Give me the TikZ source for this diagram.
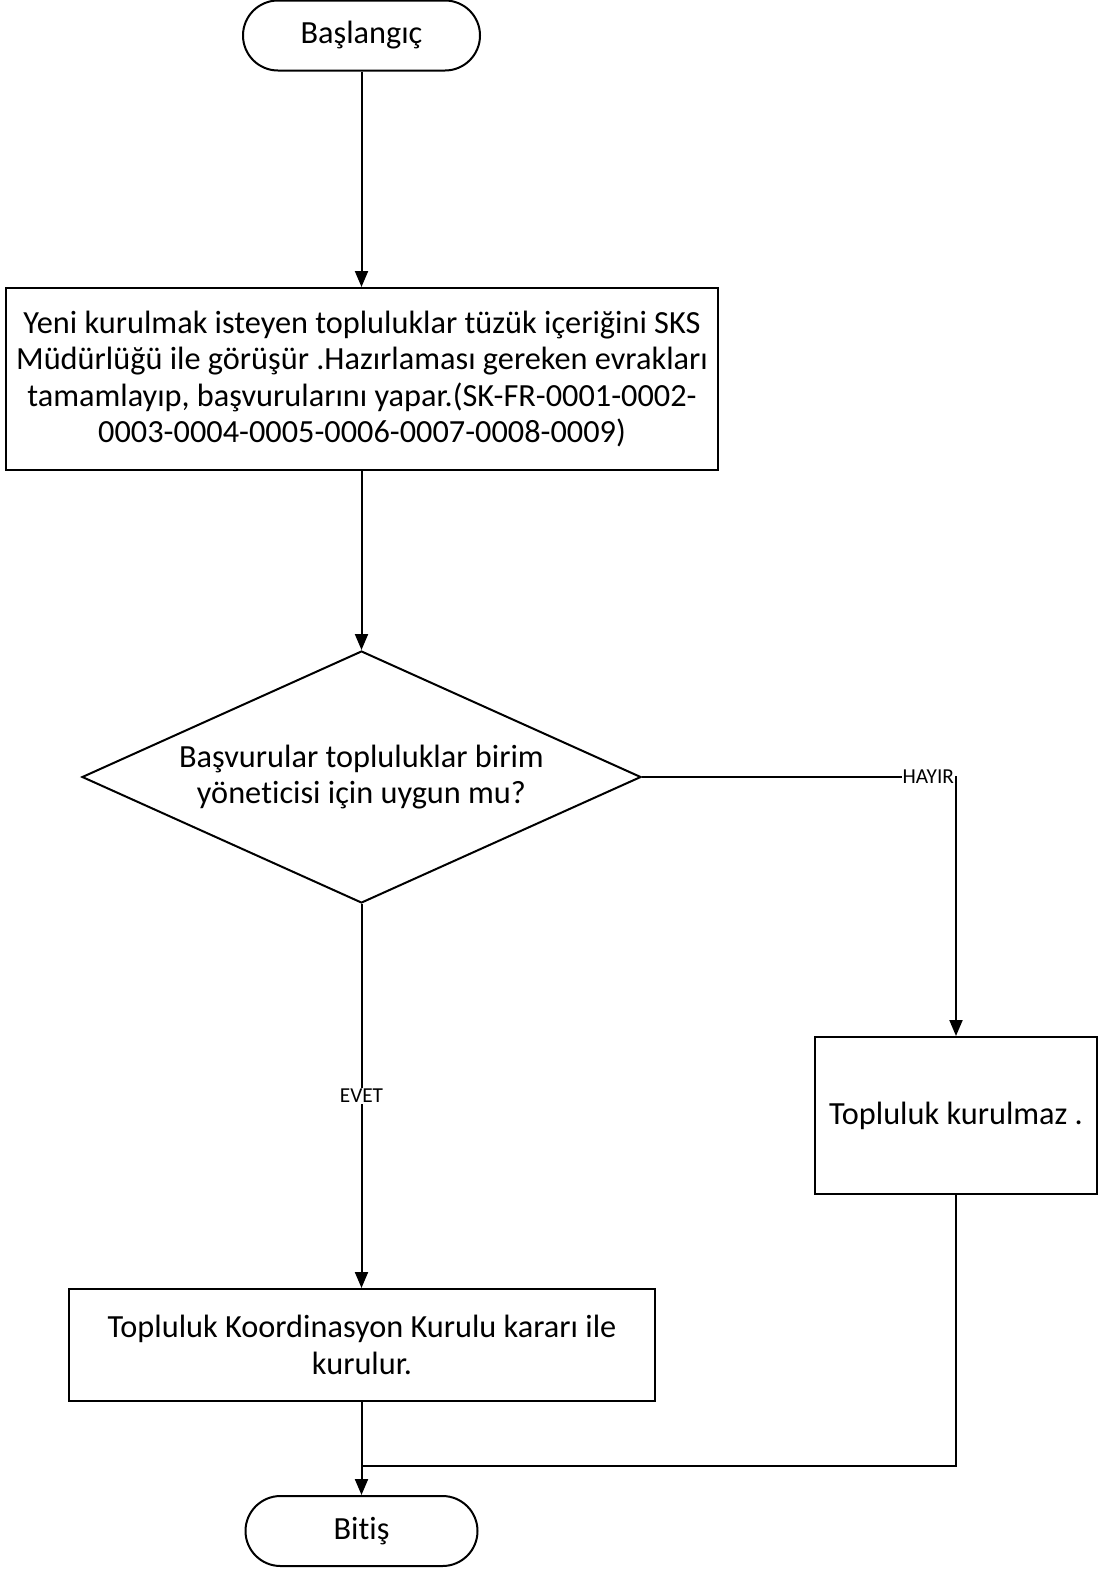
\documentclass[tikz,border=0pt]{standalone}
\usepackage{fontspec}
\setmainfont[Ligatures=NoCommon]{Carlito}
\usetikzlibrary{shapes.geometric,arrows.meta}
\begin{document}
\begin{tikzpicture}[x=1pt,y=-1pt,
  every node/.style={font=\fontsize{32.3}{36.5}\selectfont},
  line/.style={draw=black,line width=2pt},
  arr/.style={line, -{Triangle[length=16pt,width=13pt]}},
  term/.style={line, rectangle, rounded corners=35pt, minimum height=70pt, inner sep=0pt},
  proc/.style={line, rectangle, inner sep=0pt, align=center},
  dec/.style={line, diamond, aspect=2.218, minimum width=559pt, minimum height=252pt, inner sep=0pt, align=center},
  lbl/.style={font=\fontsize{21.3}{24}\selectfont, fill=white, inner sep=1pt}
]
\useasboundingbox (0,0) rectangle (1108,1583);
\node[term, minimum width=237pt] (start) at (361.5,35.5) {Başlangıç};
\node[proc, minimum width=712pt, minimum height=182pt] (b1) at (362,379)
  {Yeni kurulmak isteyen topluluklar tüzük içeriğini SKS\\
   Müdürlüğü ile görüşür .Hazırlaması gereken evrakları\\
   tamamlayıp, başvurularını yapar.(SK-FR-0001-0002-\\
   0003-0004-0005-0006-0007-0008-0009)};
\node[dec] (dia) at (361.5,777) {Başvurular topluluklar birim\\yöne\mbox{t}icisi için uygun mu?};
\node[proc, minimum width=282pt, minimum height=157pt] (b3) at (956,1115.5) {Topluluk kurulmaz .};
\node[proc, minimum width=586pt, minimum height=112pt] (b2) at (362,1345)
  {Topluluk Koordinasyon Kurulu kararı ile\\kurulur.};
\node[term, minimum width=232pt] (end) at (361.5,1531) {Bitiş};
\coordinate (m) at (361.5,1466);

\draw[arr] (start.south) -- (start.south |- b1.north);
\draw[arr] (b1.south -| dia.north) -- (dia.north);
\draw[arr] (dia.east) -| node[lbl, pos=0.5, anchor=east] {HAYIR} (b3.north);
\draw[arr] (dia.south) -- node[lbl, pos=0.5] {EVET} (dia.south |- b2.north);
\draw[line] (b3.south) |- (m);
\draw[arr] (b2.south -| end.north) -- (end.north);
\end{tikzpicture}
\end{document}
